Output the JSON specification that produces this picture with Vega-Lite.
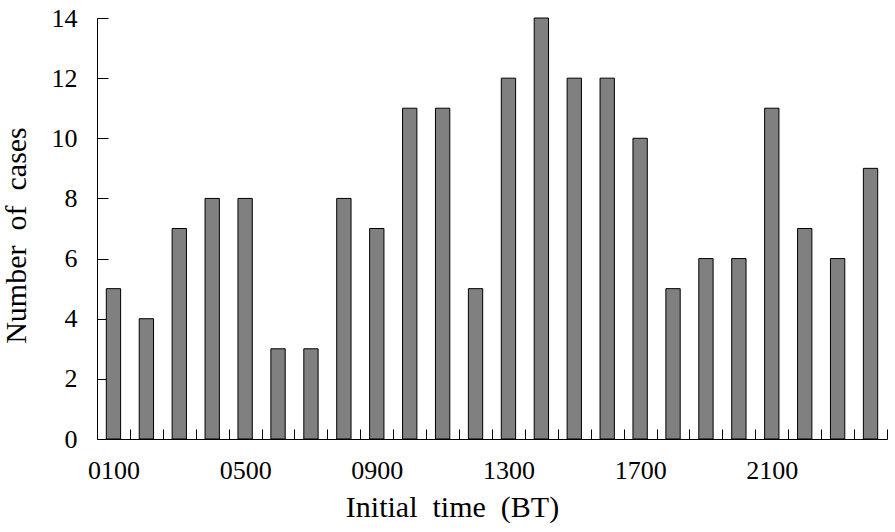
{
  "$schema": "https://vega.github.io/schema/vega-lite/v6.json",
  "width": 790,
  "height": 421,
  "autosize": {"type": "none"},
  "padding": {"left": 97, "top": 18, "right": 8, "bottom": 93},
  "background": "white",
  "config": {
    "view": {"stroke": null},
    "font": "Liberation Serif",
    "axis": {
      "grid": false,
      "domainColor": "#000000",
      "domainWidth": 1,
      "tickColor": "#000000",
      "tickWidth": 1,
      "ticks": true,
      "labelFont": "Liberation Serif",
      "labelFontSize": 26,
      "labelColor": "#000000",
      "titleFont": "Liberation Serif",
      "titleFontSize": 30,
      "titleFontWeight": "normal",
      "titleColor": "#000000"
    }
  },
  "data": {
    "values": [
      {"time": "0100", "cases": 5},
      {"time": "0200", "cases": 4},
      {"time": "0300", "cases": 7},
      {"time": "0400", "cases": 8},
      {"time": "0500", "cases": 8},
      {"time": "0600", "cases": 3},
      {"time": "0700", "cases": 3},
      {"time": "0800", "cases": 8},
      {"time": "0900", "cases": 7},
      {"time": "1000", "cases": 11},
      {"time": "1100", "cases": 11},
      {"time": "1200", "cases": 5},
      {"time": "1300", "cases": 12},
      {"time": "1400", "cases": 14},
      {"time": "1500", "cases": 12},
      {"time": "1600", "cases": 12},
      {"time": "1700", "cases": 10},
      {"time": "1800", "cases": 5},
      {"time": "1900", "cases": 6},
      {"time": "2000", "cases": 6},
      {"time": "2100", "cases": 11},
      {"time": "2200", "cases": 7},
      {"time": "2300", "cases": 6},
      {"time": "2400", "cases": 9}
    ]
  },
  "mark": {"type": "bar", "fill": "#808080", "stroke": "#000000", "strokeWidth": 1, "width": {"band": 0.435}},
  "encoding": {
    "x": {
      "field": "time",
      "type": "ordinal",
      "sort": null,
      "scale": {"paddingInner": 0, "paddingOuter": 0},
      "axis": {
        "title": "Initial\u00a0\u00a0time\u00a0\u00a0(BT)",
        "labelAngle": 0,
        "labelOverlap": false,
        "tickBand": "extent",
        "tickSize": -10,
        "labelPadding": 28,
        "labelBaseline": "top",
        "labelExpr": "indexof(['0100','0500','0900','1300','1700','2100'], datum.value) >= 0 ? datum.value : ''",
        "titleX": 355,
        "titleY": 77,
        "titleAlign": "center",
        "titleBaseline": "alphabetic"
      }
    },
    "y": {
      "field": "cases",
      "type": "quantitative",
      "scale": {"domain": [0, 14], "nice": false},
      "axis": {
        "title": "Number\u00a0\u00a0of\u00a0\u00a0cases",
        "values": [0, 2, 4, 6, 8, 10, 12, 14],
        "ticks": true,
        "tickColor": "#000000",
        "tickWidth": 1,
        "tickSize": -11,
        "tickRound": true,
        "labelPadding": 31,
        "titleX": -72,
        "titleY": 217,
        "titleAngle": 270,
        "titleAlign": "center",
        "titleBaseline": "alphabetic"
      }
    }
  }
}
